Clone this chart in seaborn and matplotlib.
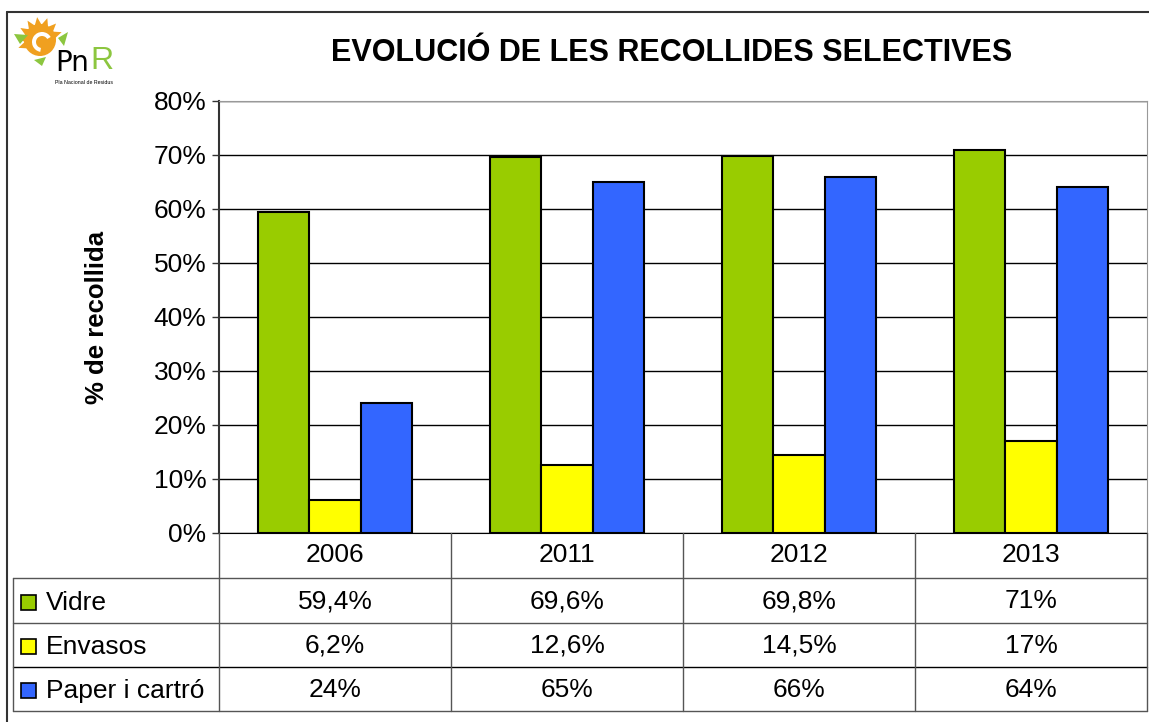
import numpy as np
import pandas as pd
import matplotlib
matplotlib.use('Agg')
import matplotlib.pyplot as plt
import matplotlib.patches as mpatches
from matplotlib.lines import Line2D
import seaborn as sns

years = ['2006', '2011', '2012', '2013']
materials = ['Vidre', 'Envasos', 'Paper i cartró']
vidre = [59.4, 69.6, 69.8, 71.0]
envasos = [6.2, 12.6, 14.5, 17.0]
paper = [24.0, 65.0, 66.0, 64.0]
table_labels = [
    ['59,4%', '69,6%', '69,8%', '71%'],
    ['6,2%', '12,6%', '14,5%', '17%'],
    ['24%', '65%', '66%', '64%'],
]
colors = ['#99CC00', '#FFFF00', '#3366FF']
y_ticks = [0, 10, 20, 30, 40, 50, 60, 70, 80]

df = pd.DataFrame({
    'year': years * 3,
    'material': [m for m in materials for _ in years],
    'value': vidre + envasos + paper,
})

sns.set_style('white')
plt.rcParams['font.family'] = ['Liberation Sans', 'DejaVu Sans']
plt.rcParams['text.color'] = 'black'
plt.rcParams['ytick.color'] = 'black'
plt.rcParams['axes.labelcolor'] = 'black'

W, H = 1149, 722
fig = plt.figure(figsize=(W / 100, H / 100), dpi=100)

def fx(px):
    return px / W

def fy(py):
    return 1 - py / H

FS = 19

# plot area
x0, x1, ytop, ybot = 219, 1147, 101, 533
ax = fig.add_axes([fx(x0), fy(ybot), fx(x1 - x0), (ybot - ytop) / H])
sns.barplot(data=df, x='year', y='value', hue='material', palette=colors,
            width=0.664, edgecolor='black', linewidth=1.5, saturation=1,
            legend=False, ax=ax, zorder=3)
ax.set_ylim(0, 80)
ax.set_xlim(-0.5, len(years) - 0.5)
ax.set_yticks(y_ticks)
ax.set_yticklabels([f'{t}%' for t in y_ticks], fontsize=FS)
ax.set_xticks([])
ax.set_xlabel('')
ax.set_ylabel('% de recollida', fontsize=18.5, fontweight='bold', labelpad=32)
ax.yaxis.grid(True, color='black', linewidth=1.0, zorder=0)
ax.set_axisbelow(True)
ax.tick_params(axis='y', direction='out', length=5, width=1, color='#333333', pad=4, left=True)
ax.spines['left'].set_color('#333333')
ax.spines['left'].set_linewidth(1.5)
ax.spines['top'].set_color('#999999')
ax.spines['right'].set_color('#999999')
ax.spines['bottom'].set_color('black')
for s in ax.spines.values():
    s.set_zorder(5)

# data table below
col_edges = [x0 + i * (x1 - x0) / len(years) for i in range(len(years) + 1)]
row_edges = [533, 578, 623, 667, 711]
tleft = 13
lw = 1.0
def hline(y, xa, xb, c='#555555'):
    fig.add_artist(Line2D([fx(xa), fx(xb)], [fy(y), fy(y)], color=c, lw=lw))
def vline(x, ya, yb, c='#555555'):
    fig.add_artist(Line2D([fx(x), fx(x)], [fy(ya), fy(yb)], color=c, lw=lw))

hline(row_edges[1], tleft, x1)
hline(row_edges[2], tleft, x1)
hline(row_edges[3], tleft, x1, c='black')
hline(row_edges[4], tleft, x1)
for cx in col_edges:
    vline(cx, row_edges[0], row_edges[4])
vline(tleft, row_edges[1], row_edges[4])

for i, yr in enumerate(years):
    cx = (col_edges[i] + col_edges[i + 1]) / 2
    cy = (row_edges[0] + row_edges[1]) / 2
    fig.text(fx(cx), fy(cy), yr, ha='center', va='center', fontsize=FS)
for r, m in enumerate(materials):
    cy = (row_edges[r + 1] + row_edges[r + 2]) / 2
    fig.add_artist(mpatches.Rectangle((fx(21), fy(cy + 9)), fx(15), 15 / H,
                                      facecolor=colors[r], edgecolor='black', lw=1.2))
    fig.text(fx(46), fy(cy + 2), m, ha='left', va='center', fontsize=FS)
    for i in range(len(years)):
        cx = (col_edges[i] + col_edges[i + 1]) / 2
        fig.text(fx(cx), fy(cy + 1), table_labels[r][i], ha='center', va='center', fontsize=FS)

# title
fig.text(fx(672), fy(53), 'EVOLUCIÓ DE LES RECOLLIDES SELECTIVES', ha='center', va='center',
         fontsize=22, fontweight='bold')

# outer frame (top and left)
fig.add_artist(Line2D([fx(7), 1], [fy(12), fy(12)], color='#333333', lw=1.5))
fig.add_artist(Line2D([fx(7), fx(7)], [fy(12), 0], color='#333333', lw=1.5))

# logo
lax = fig.add_axes([0, fy(95), fx(130), 95 / H])
lax.set_xlim(0, 130)
lax.set_ylim(95, 0)
lax.axis('off')
cxs, cys = 40, 40
for ang in np.linspace(20, 200, 8):
    a = np.deg2rad(ang)
    tip = (cxs + 23 * np.cos(a), cys - 23 * np.sin(a))
    b1 = (cxs + 14 * np.cos(a + 0.3), cys - 14 * np.sin(a + 0.3))
    b2 = (cxs + 14 * np.cos(a - 0.3), cys - 14 * np.sin(a - 0.3))
    lax.add_patch(mpatches.Polygon([tip, b1, b2], color='#F0A020', lw=0))
lax.add_patch(mpatches.Circle((cxs, cys), 16, color='#F0A020', lw=0))
lax.add_patch(mpatches.Wedge((cxs + 2, cys + 2), 10, 100, 330, width=4, color='white', lw=0))
lax.add_patch(mpatches.Polygon([(14, 34), (28, 35), (20, 44)], color='#8CC63F', lw=0))
lax.add_patch(mpatches.Polygon([(58, 38), (68, 32), (64, 46)], color='#8CC63F', lw=0))
lax.add_patch(mpatches.Polygon([(34, 60), (46, 57), (42, 66)], color='#8CC63F', lw=0))
lax.text(55, 63, 'Pn', fontsize=20, color='black', ha='left', va='center',
         family='DejaVu Sans')
lax.text(90, 61, 'R', fontsize=23, color='#8CC63F', ha='left', va='center')
lax.text(55, 82, 'Pla Nacional de Residus', fontsize=3.8, color='black', ha='left', va='center')

fig.savefig('out.png', dpi=100)
